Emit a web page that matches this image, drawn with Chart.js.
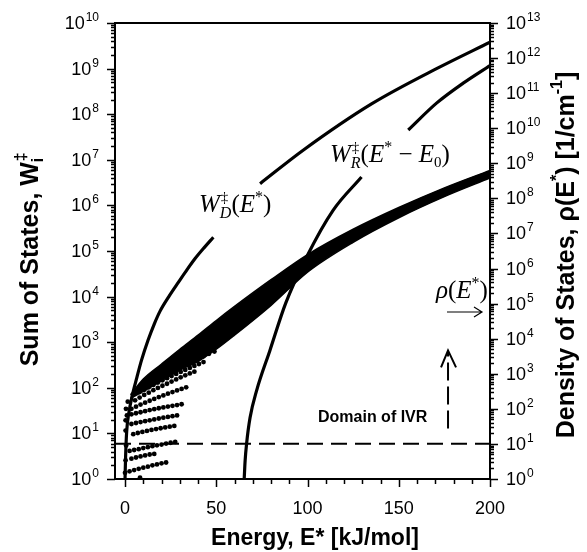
<!DOCTYPE html>
<html><head><meta charset="utf-8">
<script src="https://cdn.jsdelivr.net/npm/chart.js@4.4.1/dist/chart.umd.min.js"></script>
<style>html,body{margin:0;padding:0;background:#fff}#wrap{width:587px;height:552px}</style>
</head><body><div id="wrap"><canvas id="c" width="587" height="552"></canvas></div>
<script>
// ---------- data ----------
const energyTicks = [0, 50, 100, 150, 200];
const energyMinorTicks = [10, 20, 30, 40, 60, 70, 80, 90, 110, 120, 130, 140, 160, 170, 180, 190];
const leftDecades = [0,1,2,3,4,5,6,7,8,9,10];
const rightDecades = [0,1,2,3,4,5,6,7,8,9,10,11,12,13];

// Sum of states W_D(E*)  [E kJ/mol, W]; null = gap under the label
const sumD = [[0,1],[0.3,3],[0.9,11],[2,27],[4.4,80],[6.5,170],[9,400],[12.6,1100],[16,2500],[19.2,4800],[24,10000],[29.4,21000],[34,39000],[38.5,69000],[43.5,1.2e5],[48.4,2.0e5],[60,null],[74,3.0e6],[97.6,1.62e7],[135.3,1.7e8],[171.8,1.05e9],[200,3.8e9]];
// Sum of states W_R(E*-E0)
const sumR = [[65.3,1],[65.8,2.5],[66.6,5.9],[68.5,22],[72.1,87],[79.4,660],[88,7100],[99.5,74000],[114,7.8e5],[129.6,4.2e6],[142,null],[155.2,4.5e7],[170.7,1.75e8],[185.3,4.8e8],[200,1.17e9]];
// Density of states band rho(E*) (right axis)
const bandE     = [3, 10, 20, 30, 40, 50, 60, 80, 100, 125, 150, 175, 200];
const bandUpper = [251, 708, 1900, 5000, 12600, 33000, 83000, 4.8e5, 2.5e6, 1.32e7, 5.5e7, 2.0e8, 6.3e8];
const bandLower = [200, 316, 630, 1260, 2240, 5000, 12600, 8.9e4, 7.9e5, 5.6e6, 2.8e7, 1.12e8, 3.8e8];
// Dot rows of rho at low energy (right axis)
const rhoRow0 = [[0.3,3.4],[0.6,9],[0.3,24],[0.3,47],[0.5,100],[1.5,160]];
const rhoRow1 = [[0,1.5],[2.5,1.65],[5,1.8],[7.5,1.95],[10,2.1],[12.5,2.25],[15,2.45],[17.5,2.6],[20,2.8],[22.5,2.95],[8.2,1.1]];
const rhoRow2 = [[3.5,3.8],[6,4.1],[8.5,4.4],[11,4.7],[13.5,5.0],[16,5.2]];
const rhoRow3 = [[2.5,6.3],[5,6.7],[7.5,7.1],[10,7.6],[12.5,8.1],[15,8.6],[17.5,9.1],[20,9.6],[22.5,10.2],[25,10.8],[27.5,11.4]];
const rhoRow4 = [[4.5,19],[7,20.5],[9.5,22],[12,23.5],[14.5,25],[17,26.5],[19.5,28],[22,29.5],[24.5,31],[27,32.5]];
const rhoRow5 = [[3.5,37],[6,39.5],[8.5,42],[11,44.5],[13.5,47],[16,50],[18.5,53],[21,56],[23.5,59],[26,62],[28.5,65]];
const rhoRow6 = [[1,65],[3.5,70],[6,75],[8.5,80],[11,86],[13.5,92],[16,98],[18.5,104],[21,110],[23.5,116],[26,122],[28.5,128],[31,135]];
const rhoRow7 = [[3.5,100],[6,115],[8.5,132],[11,150],[13.5,170],[16,192],[18.5,216],[21,242],[23.5,270],[26,300],[28.5,335],[31,370],[33.5,410]];
const rhoRow8 = [[5.5,175],[8,210],[10.5,250],[13,290],[15.5,340],[18,395],[20.5,455],[23,520],[25.5,600],[28,690],[30.5,790],[33,900],[35.5,1020],[38,1150]];
const rhoRow9 = [[8,300],[10.5,350],[13,410],[15.5,480],[18,560],[20.5,650],[23,750],[25.5,860],[28,990],[30.5,1130],[33,1290],[35.5,1470],[38,1670],[40.5,1900],[43,2150]];
const rhoRow10 = [[10,500],[13,600],[16,720],[19,860],[22,1020],[25,1200],[28,1420],[31,1670],[34,1950],[37,2300],[40,2700],[43,3150],[46,3700],[49,4300]];
// Domain of IVR threshold and arrow
const ivrLevel = 5.9;
const ivrArrow = {E: 177, from: 12.8, to: 660};

// ---------- helpers ----------
const SANS = '"Liberation Sans", Arial, Helvetica, sans-serif';
const SERIF = '"Liberation Serif", "Times New Roman", serif';
const pts = a => a.map(p => ({x: p[0], y: p[1]}));
const zip = (xs, ys) => xs.map((x, i) => ({x, y: ys[i]}));

function runs(ctx, x, y, segs, align) {
  let w = 0;
  for (const s of segs) { ctx.font = s.f; s._w = ctx.measureText(s.t).width; w += (s.adv === undefined ? s._w : s.adv); }
  let cx = align === 'center' ? x - w / 2 : align === 'right' ? x - w : x;
  for (const s of segs) {
    ctx.font = s.f;
    ctx.fillText(s.t, cx + (s.dx || 0), y + (s.dy || 0));
    cx += (s.adv === undefined ? s._w : s.adv);
  }
}

const dotRow = (d) => ({type: 'scatter', data: pts(d), yAxisID: 'y2', pointRadius: 2.4, pointBackgroundColor: '#000', pointBorderWidth: 0, showLine: false});

const axesPlugin = {
  id: 'axesPlugin',
  afterDatasetsDraw(chart) {
    const ctx = chart.ctx, xs = chart.scales.x, ys = chart.scales.y;
    ctx.save();
    ctx.fillStyle = '#000'; ctx.strokeStyle = '#000';
    ctx.textAlign = 'left'; ctx.textBaseline = 'alphabetic';
    const it = 'italic 25px ' + SERIF, up = '25px ' + SERIF, its = 'italic 16px ' + SERIF, rs = '15px ' + SERIF;
    // W_D label
    runs(ctx, 199, 212, [
      {t: 'W', f: it}, {t: '\u2021', f: rs, dy: -10, adv: 0, dx: 1}, {t: 'D', f: its, dy: 6},
      {t: '(', f: up}, {t: 'E', f: it}, {t: '*', f: '16px ' + SERIF, dy: -10}, {t: ')', f: up}
    ]);
    // W_R label
    runs(ctx, 330, 162, [
      {t: 'W', f: it}, {t: '\u2021', f: rs, dy: -10, adv: 0, dx: 1}, {t: 'R', f: its, dy: 6},
      {t: '(', f: up}, {t: 'E', f: it}, {t: '*', f: '16px ' + SERIF, dy: -10},
      {t: ' \u2212 ', f: up}, {t: 'E', f: it}, {t: '0', f: '15px ' + SERIF, dy: 5}, {t: ')', f: up}
    ]);
    // rho label
    runs(ctx, 436, 298, [
      {t: '\u03C1', f: it}, {t: '(', f: up}, {t: 'E', f: it}, {t: '*', f: '16px ' + SERIF, dy: -10}, {t: ')', f: up}
    ]);
    // small arrow under rho
    ctx.lineWidth = 1.2;
    ctx.beginPath(); ctx.moveTo(447, 312); ctx.lineTo(482, 312);
    ctx.moveTo(474, 307); ctx.lineTo(482, 312); ctx.lineTo(474, 317); ctx.stroke();
    // Domain of IVR
    ctx.font = 'bold 16px ' + SANS;
    ctx.fillText('Domain of IVR', 318, 422);
    // dashed arrow
    const ax = xs.getPixelForValue(ivrArrow.E), ay0 = ys.getPixelForValue(ivrArrow.from), ay1 = ys.getPixelForValue(ivrArrow.to);
    ctx.lineWidth = 2; ctx.setLineDash([18, 6]);
    ctx.beginPath(); ctx.moveTo(ax, ay0); ctx.lineTo(ax, ay1 + 1); ctx.stroke();
    ctx.setLineDash([]);
    ctx.beginPath(); ctx.moveTo(ax - 7, ay1 + 17); ctx.lineTo(ax, ay1); ctx.lineTo(ax + 8, ay1 + 17); ctx.stroke();
    ctx.restore();
  },
  afterDraw(chart) {
    const ctx = chart.ctx, a = chart.chartArea, xs = chart.scales.x, ys = chart.scales.y, y2 = chart.scales.y2;
    ctx.save();
    ctx.strokeStyle = '#000'; ctx.fillStyle = '#000';
    ctx.lineWidth = 2;
    ctx.strokeRect(a.left, a.top, a.right - a.left, a.bottom - a.top);
    ctx.lineWidth = 1.5;
    ctx.beginPath();
    for (const v of energyTicks) { const p = Math.round(xs.getPixelForValue(v)) + 0.5; ctx.moveTo(p, a.bottom); ctx.lineTo(p, a.bottom + 8); }
    for (const v of energyMinorTicks) { const p = Math.round(xs.getPixelForValue(v)) + 0.5; ctx.moveTo(p, a.bottom); ctx.lineTo(p, a.bottom + 5); }
    for (const n of leftDecades) {
      const p = Math.round(ys.getPixelForValue(Math.pow(10, n))) + 0.5;
      ctx.moveTo(a.left, p); ctx.lineTo(a.left - 8, p);
      if (n < 10) for (let m = 2; m <= 9; m++) { const q = Math.round(ys.getPixelForValue(m * Math.pow(10, n))) + 0.5; ctx.moveTo(a.left, q); ctx.lineTo(a.left - 4, q); }
    }
    for (const n of rightDecades) {
      const p = Math.round(y2.getPixelForValue(Math.pow(10, n))) + 0.5;
      ctx.moveTo(a.right, p); ctx.lineTo(a.right + 8, p);
      if (n < 13) for (let m = 2; m <= 9; m++) { const q = Math.round(y2.getPixelForValue(m * Math.pow(10, n))) + 0.5; ctx.moveTo(a.right, q); ctx.lineTo(a.right + 4, q); }
    }
    ctx.stroke();
    // tick labels
    ctx.textBaseline = 'alphabetic';
    const tf = '18px ' + SANS, ef = '12px ' + SANS;
    ctx.textAlign = 'left';
    for (const n of leftDecades) {
      const p = ys.getPixelForValue(Math.pow(10, n));
      runs(ctx, 98, p + 6, [{t: '10', f: tf}, {t: String(n), f: ef, dy: -8, dx: 1}], 'right');
    }
    for (const n of rightDecades) {
      const p = y2.getPixelForValue(Math.pow(10, n));
      runs(ctx, 506, p + 6, [{t: '10', f: tf}, {t: String(n), f: ef, dy: -8, dx: 1}], 'left');
    }
    for (const v of energyTicks) {
      runs(ctx, xs.getPixelForValue(v), 514, [{t: String(v), f: tf}], 'center');
    }
    // axis titles
    const bx = 'bold 23px ' + SANS, bf = 'bold 25px ' + SANS, bs = 'bold 16px ' + SANS;
    runs(ctx, 315, 545, [{t: 'Energy, E* [kJ/mol]', f: bx}], 'center');
    ctx.save(); ctx.translate(38, 262); ctx.rotate(-Math.PI / 2);
    runs(ctx, 0, 0, [{t: 'Sum of States, W', f: bf}, {t: '\u2021', f: bs, dy: -12, adv: 0, dx: 1}, {t: 'i', f: bs, dy: 5}], 'center');
    ctx.restore();
    ctx.save(); ctx.translate(574, 255); ctx.rotate(-Math.PI / 2);
    runs(ctx, 0, 0, [{t: 'Density of States, \u03C1(E', f: bf}, {t: '*', f: bs, dy: -12}, {t: ') [1/cm', f: bf}, {t: '-1', f: bs, dy: -12}, {t: ']', f: bf}], 'center');
    ctx.restore();
    ctx.restore();
  }
};

new Chart(document.getElementById('c'), {
  type: 'scatter',
  data: {
    datasets: [
      {type: 'line', data: pts(sumD), yAxisID: 'y', borderColor: '#000', borderWidth: 3.2, pointRadius: 0, cubicInterpolationMode: 'monotone', fill: false},
      {type: 'line', data: pts(sumR), yAxisID: 'y', borderColor: '#000', borderWidth: 3.2, pointRadius: 0, cubicInterpolationMode: 'monotone', fill: false},
      {type: 'line', data: [{x: -5.5, y: ivrLevel}, {x: 200, y: ivrLevel}], yAxisID: 'y', borderColor: '#000', borderWidth: 2, borderDash: [16, 8], pointRadius: 0, fill: false},
      {type: 'line', data: zip(bandE, bandUpper), yAxisID: 'y2', borderColor: '#000', backgroundColor: '#000', borderWidth: 1.5, pointRadius: 0, cubicInterpolationMode: 'monotone', fill: '+1'},
      {type: 'line', data: zip(bandE, bandLower), yAxisID: 'y2', borderColor: '#000', borderWidth: 1.5, pointRadius: 0, cubicInterpolationMode: 'monotone', fill: false},
      dotRow(rhoRow0), dotRow(rhoRow1), dotRow(rhoRow2), dotRow(rhoRow3), dotRow(rhoRow4), dotRow(rhoRow5),
      dotRow(rhoRow6), dotRow(rhoRow7), dotRow(rhoRow8), dotRow(rhoRow9), dotRow(rhoRow10)
    ]
  },
  options: {
    responsive: false, animation: false,
    layout: {padding: {top: 23, left: 0, right: 0, bottom: 0}},
    plugins: {legend: {display: false}, tooltip: {enabled: false}},
    scales: {
      x: {type: 'linear', min: -5.5, max: 200, grid: {display: false}, border: {display: false}, ticks: {display: false}, afterFit: s => { s.height = 73; }},
      y: {type: 'logarithmic', position: 'left', min: 1, max: 1e10, grid: {display: false}, border: {display: false}, ticks: {display: false}, afterFit: s => { s.width = 115; }},
      y2: {type: 'logarithmic', position: 'right', min: 1, max: 1e13, grid: {display: false}, border: {display: false}, ticks: {display: false}, afterFit: s => { s.width = 97; }}
    }
  },
  plugins: [axesPlugin]
});
</script></body></html>
